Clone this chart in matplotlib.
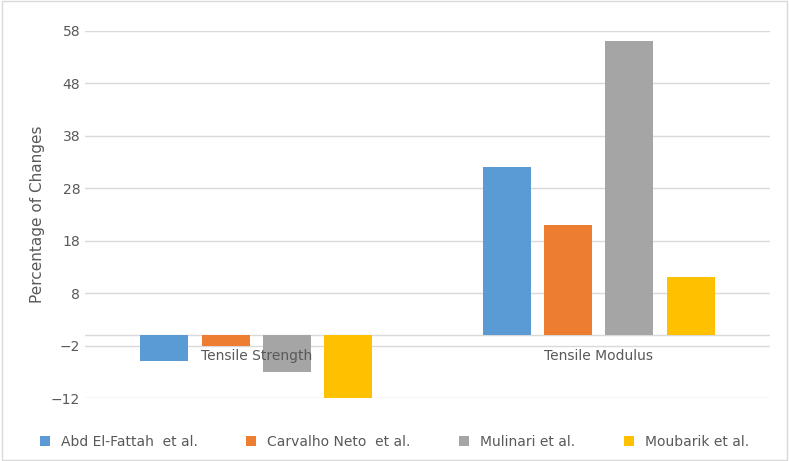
import matplotlib.pyplot as plt
import numpy as np
from matplotlib.patches import Rectangle

categories = ["Tensile Strength", "Tensile Modulus"]
series_names = ["Abd El-Fattah  et al.", "Carvalho Neto  et al.", "Mulinari et al.", "Moubarik et al."]
values = [
    [-5, 32],
    [-2, 21],
    [-7, 56],
    [-12, 11],
]
colors = ["#5B9BD5", "#ED7D31", "#A5A5A5", "#FFC000"]
yticks = [-12, -2, 8, 18, 28, 38, 48, 58]

fig = plt.figure(figsize=(7.89, 4.61), dpi=100)
ax = fig.add_axes([85 / 789, 1 - 398 / 461, 685 / 789, 367 / 461])

x = np.arange(len(categories))
step = 0.179
width = 0.14
for i, (name, vals) in enumerate(zip(series_names, values)):
    ax.bar(x + (i - 1.5) * step, vals, width, color=colors[i], label=name, zorder=3)

ax.set_xlim(-0.5, 1.5)
ax.set_ylim(-12, 58)
ax.set_yticks(yticks)
ax.tick_params(axis="y", length=0, labelsize=10, colors="#595959")
ax.set_xticks([])
ax.grid(axis="y", color="#D9D9D9", linewidth=1, zorder=0)
ax.axhline(0, color="#D9D9D9", linewidth=1, zorder=1)
for s in ax.spines.values():
    s.set_visible(False)
ax.set_ylabel("Percentage of Changes", fontsize=11, color="#595959")

for xi, c in zip(x, categories):
    ax.annotate(c, (xi, 0), xytext=(0, -10), textcoords="offset points",
                ha="center", va="top", fontsize=10, color="#595959", zorder=4)

fig.legend(loc="lower center", bbox_to_anchor=(0.5, 0.0), ncol=4, frameon=False,
           fontsize=10, labelcolor="#595959", handlelength=0.7, handleheight=0.7,
           columnspacing=3.5)

fig.patches.append(Rectangle((0.002, 0.003), 0.995, 0.994, transform=fig.transFigure,
                             fill=False, edgecolor="#D9D9D9", linewidth=1))

fig.savefig("out.png", dpi=100)
